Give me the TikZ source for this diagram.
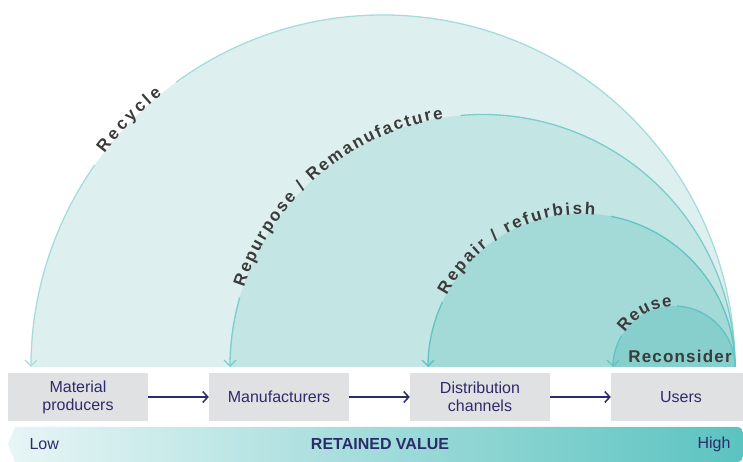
\documentclass[tikz,border=0pt]{standalone}
\usepackage{fontspec}
\setmainfont{Liberation Sans}
\usetikzlibrary{arrows.meta,decorations.text}

\definecolor{navy}{HTML}{2D2B6B}
\definecolor{labelgray}{HTML}{3B3B3B}
\definecolor{boxgray}{HTML}{E0E1E3}
\definecolor{fillA}{HTML}{DDF0EF}
\definecolor{fillB}{HTML}{C3E6E4}
\definecolor{fillC}{HTML}{A3DAD8}
\definecolor{fillD}{HTML}{87CFCC}
\definecolor{edgeA}{HTML}{A6DCDB}
\definecolor{edgeB}{HTML}{7ACDCB}
\definecolor{edgeC}{HTML}{5FC4C2}
\definecolor{edgeD}{HTML}{5FC4C2}
\definecolor{bandlight}{HTML}{E7F5F5}
\definecolor{bandteal}{HTML}{5BC3C0}

\newcommand{\rlabelfont}{\fontsize{17}{20}\selectfont\bfseries}

\tikzstyle{stagebox} = [rectangle, fill=boxgray, text=navy, text width=140pt,
    minimum height=48pt, inner sep=0pt, text centered, font=\fontsize{16}{18}\selectfont]
\tikzstyle{flowline} = [draw=navy, line width=1.5pt, -{Straight Barb[length=5pt,width=11pt]}]
\tikzstyle{ringline} = [line width=1.3pt]
\tikzstyle{backline} = [line width=1.3pt, -{Straight Barb[length=6pt,width=12pt]}]
\tikzstyle{arctext} = [decorate, decoration={text along path, text align={fit to path},
    text color=labelgray, raise=-1pt}]

\begin{document}
\begin{tikzpicture}[x=1pt, y=1pt, node distance=201pt, auto]
    \clip (0,0) rectangle (743,462);
    % Centres of the loops
    \coordinate (recycle) at (383,95);
    \coordinate (repurpose) at (482.5,95);
    \coordinate (repair) at (581.5,95);
    \coordinate (reuse) at (674,95);
    % Half discs
    \fill [fillA] (recycle) ++(180:352) arc[start angle=180, end angle=0, radius=352] -- cycle;
    \fill [fillB] (repurpose) ++(180:252.5) arc[start angle=180, end angle=0, radius=252.5] -- cycle;
    \fill [fillC] (repair) ++(180:153.5) arc[start angle=180, end angle=0, radius=153.5] -- cycle;
    \fill [fillD] (reuse) ++(180:61) arc[start angle=180, end angle=0, radius=61] -- cycle;
    % Loop edges, broken where the label sits
    \draw [ringline, edgeA] (recycle) ++(126:352) arc[start angle=126, end angle=0, radius=352];
    \draw [backline, edgeA] (recycle) ++(145:352) arc[start angle=145, end angle=180, radius=352];
    \draw [ringline, edgeB] (repurpose) ++(95:252.5) arc[start angle=95, end angle=0, radius=252.5];
    \draw [backline, edgeB] (repurpose) ++(164:252.5) arc[start angle=164, end angle=180, radius=252.5];
    \draw [ringline, edgeC] (repair) ++(79:153.5) arc[start angle=79, end angle=0, radius=153.5];
    \draw [backline, edgeC] (repair) ++(155:153.5) arc[start angle=155, end angle=180, radius=153.5];
    \draw [ringline, edgeD] (reuse) ++(87:61) arc[start angle=87, end angle=0, radius=61];
    \draw [backline, edgeD] (reuse) ++(149:61) arc[start angle=149, end angle=180, radius=61];
    % Loop labels
    \path [arctext, decoration={text={|\rlabelfont|Recycle}}]
        (recycle) ++(142.5:352) arc[start angle=142.5, end angle=129, radius=352];
    \path [arctext, decoration={text={|\rlabelfont|Repurpose / Remanufacture}}]
        (repurpose) ++(161.5:252.5) arc[start angle=161.5, end angle=99, radius=252.5];
    \path [arctext, decoration={text={|\rlabelfont|Repair / refurbish}}]
        (repair) ++(152:153.5) arc[start angle=152, end angle=85, radius=153.5];
    \path [arctext, decoration={text={|\rlabelfont|Reuse}}]
        (reuse) ++(145:61) arc[start angle=145, end angle=92, radius=61];
    \node [anchor=base, text=labelgray, font=\rlabelfont\addfontfeature{LetterSpace=7}] (reconsider) at (680,99) {Reconsider};
    % Place nodes
    \node [stagebox] (producers) at (78,65) {Material\\producers};
    \node [stagebox, right of=producers] (makers) {Manufacturers};
    \node [stagebox, right of=makers] (channels) {Distribution\\channels};
    \node [stagebox, right of=channels] (users) {Users};
    % Draw edges
    \path [flowline] (producers) -- (makers);
    \path [flowline] (makers) -- (channels);
    \path [flowline] (channels) -- (users);
    % Value band
    \shade [left color=bandlight, right color=bandteal]
        (8,18) -- (15,35) [rounded corners=6pt] -- (743,35) -- (743,0) [sharp corners] -- (15,0) -- cycle;
    \node [anchor=west, text=navy, font=\fontsize{16}{18}\selectfont] (low) at (26,18) {Low};
    \node [text=navy, font=\fontsize{16}{18}\selectfont\bfseries] (value) at (380,18) {RETAINED VALUE};
    \node [anchor=east, text=navy, font=\fontsize{16}{18}\selectfont] (high) at (734,18) {High};
\end{tikzpicture}
\end{document}
